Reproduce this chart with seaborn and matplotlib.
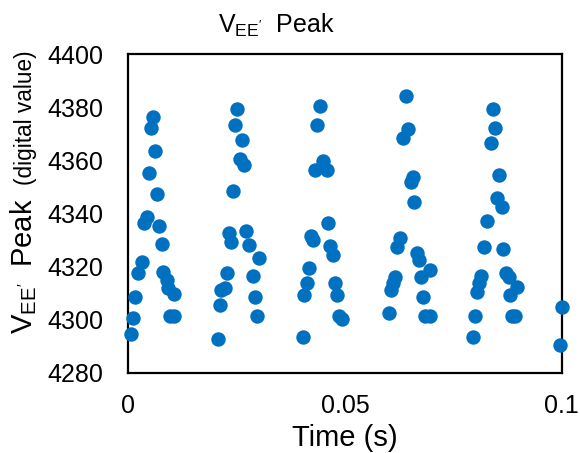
import matplotlib
matplotlib.use("Agg")
import matplotlib.pyplot as plt
import seaborn as sns
import pandas as pd

# ---- data ----
time_s = [
    0.0006, 0.00115, 0.00155, 0.0023, 0.0031, 0.0037, 0.00425, 0.00478, 0.00517, 0.00567,
    0.00623, 0.00662, 0.00715, 0.00771, 0.00809, 0.00885, 0.00923, 0.0106, 0.0096, 0.0105,
    0.0207, 0.02116, 0.0215, 0.0223, 0.0227, 0.02324, 0.0237, 0.02409, 0.02469, 0.02515,
    0.02616, 0.02577, 0.02663, 0.02723, 0.02785, 0.0287, 0.02917, 0.0297, 0.03016,
    0.04024, 0.04061, 0.04116, 0.0417, 0.04209, 0.04255, 0.04301, 0.04361, 0.04423,
    0.04485, 0.04578, 0.04615, 0.04654, 0.04716, 0.04769, 0.04823, 0.04862, 0.04924,
    0.06015, 0.06054, 0.061, 0.06154, 0.06207, 0.06269, 0.06345, 0.0646, 0.06408,
    0.06516, 0.06562, 0.066, 0.06654, 0.06707, 0.06747, 0.06807, 0.06846, 0.06961, 0.06961,
    0.0796, 0.08, 0.08039, 0.08085, 0.08145, 0.08214, 0.0827, 0.08369, 0.08408, 0.08454,
    0.08553, 0.085, 0.0863, 0.08653, 0.08715, 0.08784, 0.08807, 0.08846, 0.08923, 0.08976,
    0.0997, 0.1,
]
peak_value = [
    4294.5, 4300.6, 4308.5, 4317.7, 4321.9, 4336.3, 4338.6, 4355.3, 4372.3, 4376.4,
    4363.5, 4347.4, 4335.4, 4328.6, 4317.9, 4315.0, 4311.8, 4309.6, 4301.4, 4301.4,
    4292.7, 4305.6, 4311.2, 4312.0, 4317.7, 4332.8, 4329.4, 4348.5, 4373.3, 4379.2,
    4367.5, 4360.6, 4358.1, 4333.4, 4328.1, 4316.5, 4308.5, 4301.4, 4323.4,
    4293.6, 4309.3, 4314.0, 4319.5, 4331.5, 4330.0, 4356.4, 4373.3, 4380.4,
    4359.7, 4356.4, 4336.5, 4327.8, 4324.4, 4314.0, 4309.3, 4301.4, 4300.2,
    4302.4, 4311.2, 4314.0, 4316.2, 4327.5, 4330.7, 4368.3, 4371.6, 4384.3,
    4352.0, 4353.6, 4344.2, 4325.0, 4322.5, 4316.2, 4308.5, 4301.4, 4301.4, 4318.7,
    4293.6, 4301.4, 4310.6, 4313.7, 4316.5, 4327.5, 4337.3, 4366.4, 4379.2, 4372.2,
    4354.4, 4345.7, 4342.6, 4326.5, 4317.7, 4316.0, 4309.3, 4301.4, 4301.4, 4312.5,
    4290.5, 4304.7,
]
x_ticks = [0, 0.05, 0.1]
x_tick_labels = ["0", "0.05", "0.1"]
y_ticks = [4280, 4300, 4320, 4340, 4360, 4380, 4400]

df = pd.DataFrame({"Time": time_s, "Peak": peak_value})

sns.set_theme(style="white")
plt.rcParams["font.family"] = ["Liberation Sans", "DejaVu Sans"]
plt.rcParams["mathtext.fontset"] = "custom"
plt.rcParams["mathtext.rm"] = "Liberation Sans"
plt.rcParams["mathtext.it"] = "Liberation Sans:italic"

W, H = 580, 453
fig = plt.figure(figsize=(W / 100, H / 100), dpi=100)
ax = fig.add_axes([128.3 / W, 1 - 373 / H, (561.7 - 128.3) / W, (373 - 54) / H])

sns.scatterplot(data=df, x="Time", y="Peak", ax=ax, color="#0070C0",
                s=108, linewidth=0, clip_on=False, zorder=3)

ax.set_xlim(0, 0.1)
ax.set_ylim(4280, 4400)
ax.set_xticks(x_ticks)
ax.set_xticklabels(x_tick_labels)
ax.set_yticks(y_ticks)
ax.tick_params(axis="both", length=0, labelsize=18, colors="black")
ax.tick_params(axis="y", pad=18)
ax.tick_params(axis="x", pad=15)
ax.set_xlabel("")
ax.set_ylabel("")
for sp in ax.spines.values():
    sp.set_visible(True)
    sp.set_color("black")
    sp.set_linewidth(1.6)

# title
fig.text(276 / W, 1 - 33 / H, r"V$_{\mathregular{EE'}}$  Peak", ha="center",
         va="baseline", fontsize=18, color="black")
# x label
fig.text(345 / W, 1 - 446 / H, "Time (s)", ha="center", va="baseline",
         fontsize=21, color="black")
# y label (two sizes)
fig.text(32 / W, 1 - 334 / H, r"V$_{\mathregular{EE'}}$  Peak", rotation=90,
         rotation_mode="anchor", ha="left", va="baseline", fontsize=21, color="black")
fig.text(32 / W, 1 - 50 / H, "(digital value)", rotation=90,
         rotation_mode="anchor", ha="right", va="baseline", fontsize=16.3, color="black")

fig.savefig("out.png", dpi=100)
